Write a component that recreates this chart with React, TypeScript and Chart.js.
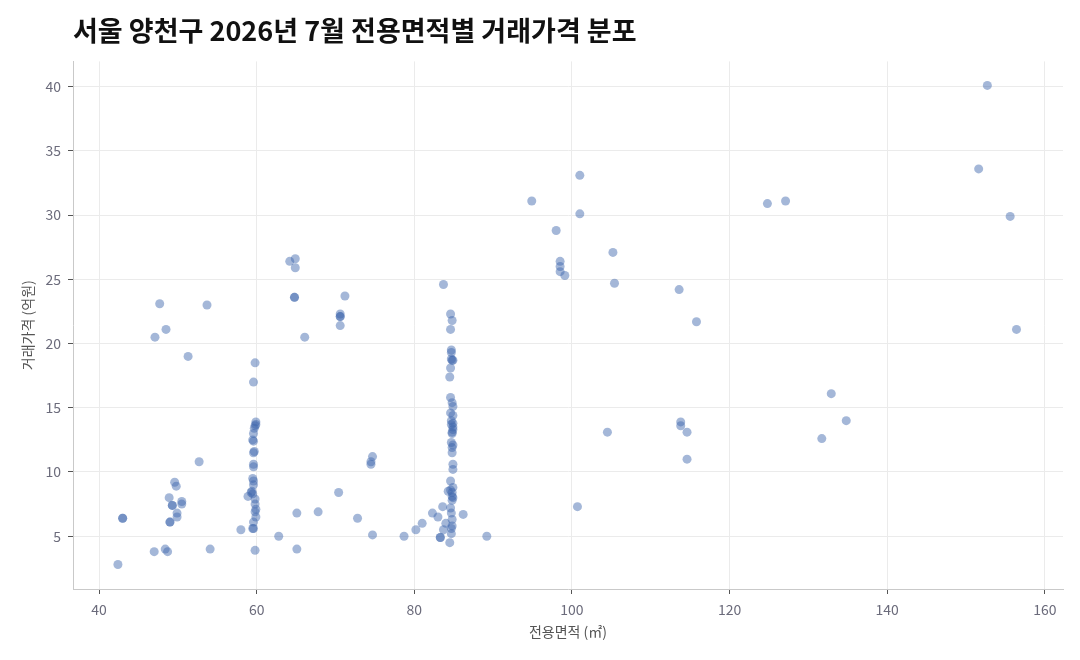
import { useEffect, useRef } from "react"
import { Chart, registerables } from "chart.js"

Chart.register(...registerables)

const TITLE = "서울 양천구 2026년 7월 전용면적별 거래가격 분포"
const X_TITLE = "전용면적 (㎡)"
const Y_TITLE = "거래가격 (억원)"
const X_TICKS = [40, 60, 80, 100, 120, 140, 160]
const Y_TICKS = [5, 10, 15, 20, 25, 30, 35, 40]

// 전용면적 (㎡) / 거래가격 (억원), same order in each pair of arrays
const SMALL_AREA = [
  47.7, 53.7, 48.5, 47.1, 51.3, 52.7, 49.6, 49.8, 48.9, 50.5, 50.5, 49.3, 49.3, 49.9,
  49.9, 49.0, 49.0, 43.0, 43.0, 42.4, 47.0, 48.4, 48.7, 54.1, 58.0, 58.9, 59.3,
]
const SMALL_PRICE = [
  23.1, 23.0, 21.1, 20.5, 19.0, 10.8, 9.2, 8.9, 8.0, 7.7, 7.5, 7.4, 7.4, 6.8,
  6.5, 6.1, 6.1, 6.4, 6.4, 2.8, 3.8, 4.0, 3.8, 4.0, 5.5, 8.1, 8.4,
]

const AREA_59 = [
  59.8, 59.6, 59.9, 59.9, 59.8, 59.7, 59.6, 59.5, 59.6, 59.7, 59.6, 59.6, 59.6, 59.5,
  59.6, 59.6, 59.4, 59.5, 59.8, 59.8, 59.9, 59.8, 59.9, 59.6, 59.6, 59.5, 59.8,
]
const PRICE_59 = [
  18.5, 17.0, 13.9, 13.7, 13.6, 13.4, 13.0, 12.5, 12.4, 11.6, 11.5, 10.6, 10.4, 9.5,
  9.3, 9.0, 8.5, 8.3, 7.9, 7.5, 7.1, 6.9, 6.5, 6.1, 5.6, 5.6, 3.9,
]

const MID_AREA = [
  62.8, 65.1, 65.1, 64.8, 64.8, 64.2, 64.9, 64.9, 71.2, 70.6, 70.6, 70.6, 70.6, 66.1,
  74.7, 74.5, 74.5, 70.4, 67.8, 72.8, 74.7,
]
const MID_PRICE = [
  5.0, 6.8, 4.0, 23.6, 23.6, 26.4, 26.6, 25.9, 23.7, 22.3, 22.1, 22.1, 21.4, 20.5,
  11.2, 10.8, 10.6, 8.4, 6.9, 6.4, 5.1,
]

const AREA_84 = [
  83.7, 84.6, 84.8, 84.6, 84.7, 84.7, 84.7, 84.9, 84.8, 84.6, 84.5, 84.6, 84.8, 84.9,
  84.6, 84.9, 84.7, 84.9, 84.7, 84.9, 84.9, 84.8, 84.8, 84.7, 84.9, 84.8, 84.8, 84.9,
  84.9, 84.6, 84.9, 84.6, 84.3, 84.8, 84.8, 84.9, 84.8, 83.6, 84.6, 84.7, 82.3, 83.0,
  86.2, 84.8, 81.0, 80.2, 84.0, 83.7, 84.8, 84.7, 84.7, 78.7, 83.3, 83.3, 84.5, 89.2,
]
const PRICE_84 = [
  24.6, 22.3, 21.8, 21.1, 19.5, 19.3, 18.8, 18.7, 18.7, 18.1, 17.4, 15.8, 15.4, 15.1,
  14.6, 14.4, 14.0, 13.8, 13.7, 13.5, 13.3, 13.1, 13.0, 12.3, 12.1, 11.9, 11.5, 10.6,
  10.2, 9.3, 8.8, 8.6, 8.5, 8.4, 8.1, 8.0, 7.8, 7.3, 7.2, 6.8, 6.8, 6.5,
  6.7, 6.3, 6.0, 5.5, 6.0, 5.5, 5.8, 5.6, 5.2, 5.0, 4.9, 4.9, 4.5, 5.0,
]

const LARGE_AREA = [
  101.0, 94.9, 101.0, 98.0, 105.2, 98.5, 98.5, 98.5, 99.1, 105.4, 113.6, 115.8, 113.8,
  113.8, 114.6, 104.5, 114.6, 100.7, 152.7, 151.6, 124.8, 127.1, 155.6, 156.4, 132.9,
  134.8, 131.7,
]
const LARGE_PRICE = [
  33.1, 31.1, 30.1, 28.8, 27.1, 26.4, 26.0, 25.6, 25.3, 24.7, 24.2, 21.7, 13.9,
  13.6, 13.1, 13.1, 11.0, 7.3, 40.1, 33.6, 30.9, 31.1, 29.9, 21.1, 16.1,
  14.0, 12.6,
]

const AREAS = [...SMALL_AREA, ...AREA_59, ...MID_AREA, ...AREA_84, ...LARGE_AREA]
const PRICES = [...SMALL_PRICE, ...PRICE_59, ...MID_PRICE, ...PRICE_84, ...LARGE_PRICE]

const FONT = "'Noto Sans CJK KR', 'Noto Sans', sans-serif"

export default function App() {
  const canvasRef = useRef<HTMLCanvasElement | null>(null)

  useEffect(() => {
    document.body.style.margin = "0"
    if (!canvasRef.current) return
    Chart.defaults.font.family = FONT

    const chart = new Chart(canvasRef.current, {
      type: "scatter",
      data: {
        datasets: [
          {
            data: AREAS.map((x, i) => ({ x, y: PRICES[i] })),
            backgroundColor: "rgba(62, 102, 172, 0.47)",
            borderWidth: 0,
            pointRadius: 4.5,
          },
        ],
      },
      options: {
        animation: false,
        responsive: true,
        maintainAspectRatio: false,
        layout: { padding: { left: 8, right: 17, top: 0, bottom: 0 } },
        plugins: {
          legend: { display: false },
          tooltip: { enabled: false },
          title: {
            display: true,
            text: TITLE,
            align: "start",
            fullSize: false,
            color: "#111",
            font: { size: 27, weight: "bold" },
            padding: { top: 15, bottom: 14 },
          },
        },
        scales: {
          x: {
            type: "linear",
            min: 36.7,
            max: 162.3,
            afterBuildTicks: (s) => {
              s.ticks = X_TICKS.map((value) => ({ value }))
            },
            afterFit: (s) => {
              s.height = 71
            },
            grid: { color: "#ebebeb", tickColor: "#555", tickLength: 5 },
            border: { color: "#c9c9c9" },
            ticks: { color: "#6b6b7b", padding: 7, font: { size: 14 } },
            title: {
              display: true,
              text: X_TITLE,
              color: "#555",
              font: { size: 14 },
              padding: { top: 0, bottom: 20 },
            },
          },
          y: {
            type: "linear",
            min: 0.89,
            max: 41.97,
            afterBuildTicks: (s) => {
              s.ticks = Y_TICKS.map((value) => ({ value }))
            },
            afterFit: (s) => {
              s.width = 65
            },
            grid: { color: "#ebebeb", tickColor: "#555", tickLength: 5 },
            border: { color: "#c9c9c9" },
            ticks: { color: "#6b6b7b", padding: 7, font: { size: 14 } },
            title: {
              display: true,
              text: Y_TITLE,
              color: "#555",
              font: { size: 14 },
              padding: { top: 11, bottom: 0 },
            },
          },
        },
      },
    })
    return () => chart.destroy()
  }, [])

  return (
    <div style={{ position: "relative", width: 1080, height: 660 }}>
      <canvas ref={canvasRef} />
    </div>
  )
}
